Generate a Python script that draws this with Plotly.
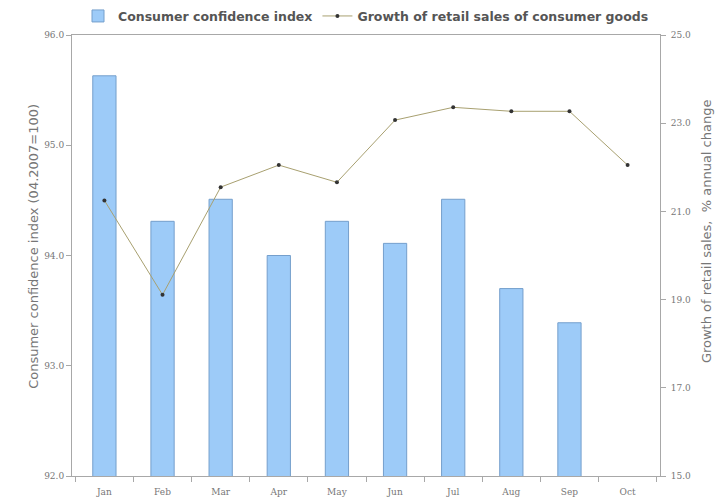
import plotly.graph_objects as go

months = ["Jan", "Feb", "Mar", "Apr", "May", "Jun", "Jul", "Aug", "Sep", "Oct"]
confidence = [95.63, 94.31, 94.51, 94.0, 94.31, 94.11, 94.51, 93.70, 93.39, None]
retail_growth = [21.25, 19.11, 21.55, 22.05, 21.66, 23.07, 23.36, 23.27, 23.27, 22.05]

left_ticks = [92.0, 93.0, 94.0, 95.0, 96.0]
right_ticks = [15.0, 17.0, 19.0, 21.0, 23.0, 25.0]

tick_font = dict(family="DejaVu Serif", size=9, color="#777777")
axis_col = "#A8A8A8"

fig = go.Figure()
fig.add_trace(go.Bar(
    x=months, y=confidence, name="Consumer confidence index",
    width=0.4, marker=dict(color="#9DCBF8", line=dict(color="#759FCC", width=1)),
    yaxis="y",
))

fig.add_trace(go.Scatter(
    x=months, y=retail_growth, name="Growth of retail sales of consumer goods",
    mode="lines+markers", yaxis="y2",
    line=dict(color="#A8A070", width=1),
    marker=dict(color="#333333", size=4),
))

# page body has an 8px margin, so the figure is sized/offset to compensate
fig.update_layout(
    width=715, height=489,
    margin=dict(l=64, r=63, t=27, b=21, autoexpand=False),
    plot_bgcolor="white", paper_bgcolor="white",
    showlegend=True,
    legend=dict(orientation="h", x=0.5, xanchor="center", yref="container", y=0.983, yanchor="middle",
                font=dict(family="DejaVu Sans", size=12.5, color="#555555", weight="bold"),
                itemwidth=30, tracegroupgap=0),
    xaxis=dict(showline=True, linecolor=axis_col, mirror=True, ticks="outside", tickson="boundaries",
               ticklen=5, tickcolor=axis_col, tickfont=tick_font, showgrid=False, ticklabelstandoff=7),
    yaxis=dict(range=[92, 96], tickvals=left_ticks,
               ticktext=[f"{v:.1f}" for v in left_ticks],
               showline=True, linecolor=axis_col, ticks="outside", ticklen=5, tickcolor=axis_col,
               tickfont=tick_font, showgrid=False, zeroline=False),
    yaxis2=dict(range=[15, 25], tickvals=right_ticks, ticktext=[f"{v:.1f}" for v in right_ticks],
                overlaying="y", side="right", showline=True, linecolor=axis_col, ticks="outside",
                ticklen=5, tickcolor=axis_col, tickfont=tick_font, showgrid=False, zeroline=False,
                ticklabelstandoff=3),
    annotations=[
        dict(text="Consumer confidence index (04.2007=100)", xref="paper", yref="paper",
             x=-0.066, y=0.52, xanchor="center", yanchor="middle", textangle=-90, showarrow=False,
             font=dict(family="DejaVu Sans", size=13, color="#777777")),
        dict(text="Growth of retail sales,  % annual change", xref="paper", yref="paper",
             x=1.078, y=0.555, xanchor="center", yanchor="middle", textangle=-90, showarrow=False,
             font=dict(family="DejaVu Sans", size=13, color="#777777")),
    ],
)

fig.write_html("out.html")
